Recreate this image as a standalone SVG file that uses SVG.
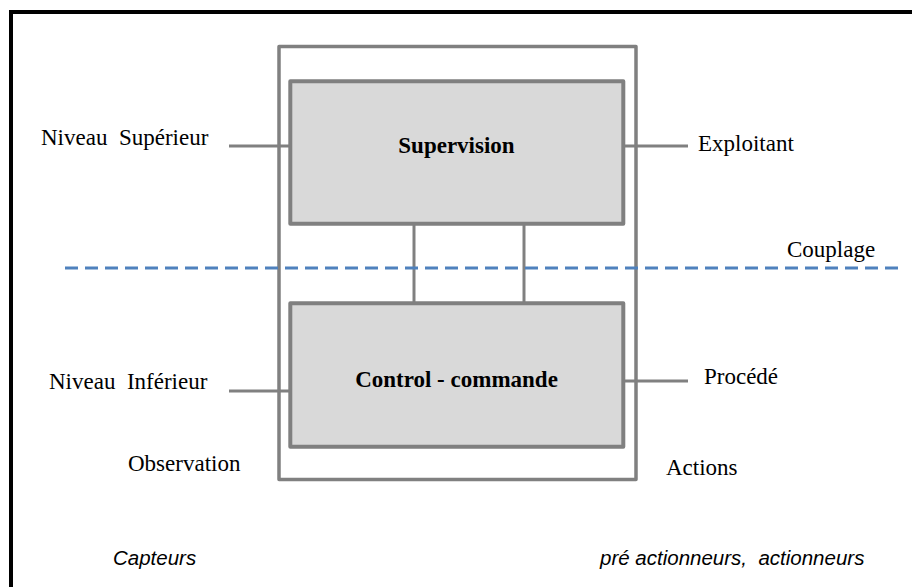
<svg xmlns="http://www.w3.org/2000/svg" width="912" height="587" viewBox="0 0 912 587">
<style>
.lbl{font-family:"Liberation Serif","Times New Roman",serif;font-size:23px;fill:#000;white-space:pre}
.bold{font-weight:bold;text-anchor:middle}
.it{font-family:"Liberation Sans",Arial,sans-serif;font-style:italic;font-size:20.5px;fill:#000;white-space:pre}
.box{fill:#d9d9d9;stroke:#808080;stroke-width:4;stroke-linejoin:round}
.conn{stroke:#808080;stroke-width:3;fill:none}
</style>
<rect x="0" y="0" width="912" height="587" fill="#fff"/>
<rect id="frame" x="11" y="12" width="910" height="590" fill="none" stroke="#000" stroke-width="4"/>
<g id="system"><rect x="279" y="46.5" width="357" height="433" fill="none" stroke="#808080" stroke-width="3.5" stroke-linejoin="round"/></g>
<g id="connectors">
<line class="conn" x1="229" y1="146" x2="290" y2="146"/>
<line class="conn" x1="623" y1="146" x2="688" y2="146"/>
<line class="conn" x1="229" y1="391" x2="290" y2="391"/>
<line class="conn" x1="623" y1="381" x2="688" y2="381"/>
<line class="conn" x1="414" y1="224" x2="414" y2="303"/>
<line class="conn" x1="524" y1="224" x2="524" y2="303"/>
<line x1="65" y1="268" x2="902" y2="268" stroke="#4f81bd" stroke-width="3" stroke-dasharray="13 7"/>
</g>
<g id="supervision"><rect class="box" x="290.3" y="81.2" width="333" height="142.6"/><text class="lbl bold" x="456.5" y="153">Supervision</text></g>
<g id="control"><rect class="box" x="290.3" y="303.2" width="333" height="143.5"/><text class="lbl bold" x="456.5" y="387">Control - commande</text></g>
<g id="labels">
<text class="lbl" x="41" y="145">Niveau  Supérieur</text>
<text class="lbl" x="698" y="151">Exploitant</text>
<text class="lbl" x="787" y="257">Couplage</text>
<text class="lbl" x="49" y="389">Niveau  Inférieur</text>
<text class="lbl" x="704" y="384">Procédé</text>
<text class="lbl" x="128" y="471">Observation</text>
<text class="lbl" x="666" y="475">Actions</text>
<text class="it" x="113" y="565">Capteurs</text>
<text class="it" x="600" y="565">pré actionneurs,  actionneurs</text>
</g>
</svg>
